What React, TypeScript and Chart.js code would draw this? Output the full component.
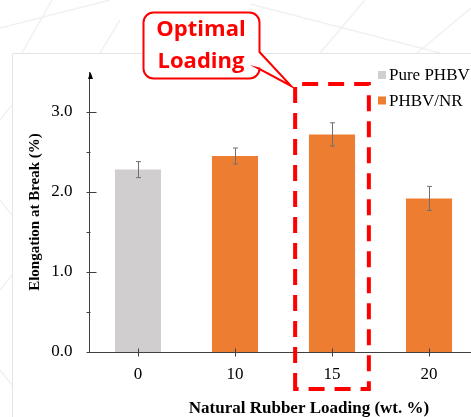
import React, { useEffect, useRef } from "react";
import { Chart, registerables } from "chart.js";

Chart.register(...registerables);

// ---- data ----
const categories = ["0", "10", "15", "20"];
const seriesLabels = ["Pure PHBV", "PHBV/NR"];
const purePHBV: (number | null)[] = [2.28, null, null, null];
const phbvNR: (number | null)[] = [null, 2.45, 2.72, 1.92];
const purePHBVErr: (number | null)[] = [0.1, null, null, null];
const phbvNRErr: (number | null)[] = [null, 0.1, 0.145, 0.15];
const yMin = 0;
const yMax = 3.5;
const yStep = 0.5;
const xTitle = "Natural Rubber Loading (wt. %)";
const yTitle = "Elongation at Break (%)";
const calloutLines = ["Optimal", "Loading"];
const highlightIndex = 2;

const GRAY = "#D0CECE";
const ORANGE = "#ED7D31";
const AXIS = "#404040";
const RED = "#FF0000";
const SERIF = "'Liberation Serif', 'Times New Roman', serif";

const CW = 490;
const CH = 417;

const decorPlugin = {
  id: "decor",
  beforeDraw(chart: any) {
    const ctx = chart.ctx;
    ctx.save();
    ctx.fillStyle = "#ffffff";
    ctx.fillRect(0, 0, chart.width, chart.height);
    // faint background pattern
    ctx.strokeStyle = "#f1f1f1";
    ctx.lineWidth = 1.5;
    const lines = [
      [52, 0, 22, 53],
      [0, 28, 110, 0],
      [250, 4, 440, 53],
      [320, 53, 365, 0],
      [417, 53, 471, 8],
      [100, 53, 120, 20],
      [0, 120, 12, 105],
      [0, 200, 12, 215],
      [0, 290, 12, 275],
      [0, 370, 12, 385],
    ];
    for (const [a, b, c, d] of lines) {
      ctx.beginPath();
      ctx.moveTo(a, b);
      ctx.lineTo(c, d);
      ctx.stroke();
    }
    // panel border
    ctx.strokeStyle = "#e4e4e4";
    ctx.lineWidth = 1;
    ctx.beginPath();
    ctx.moveTo(12.5, chart.height);
    ctx.lineTo(12.5, 53.5);
    ctx.lineTo(chart.width, 53.5);
    ctx.stroke();
    ctx.restore();
  },
  afterDatasetsDraw(chart: any) {
    const ctx = chart.ctx;
    const xs = chart.scales.x;
    const ys = chart.scales.y;
    const area = chart.chartArea;
    ctx.save();

    // error bars
    const errs = [purePHBVErr, phbvNRErr];
    ctx.strokeStyle = "#707070";
    ctx.lineWidth = 1;
    chart.data.datasets.forEach((ds: any, di: number) => {
      const meta = chart.getDatasetMeta(di);
      meta.data.forEach((bar: any, i: number) => {
        const v = ds.data[i];
        const e = errs[di][i];
        if (v == null || e == null) return;
        const x = Math.round(bar.x) + 0.5;
        const yt = ys.getPixelForValue(v + e);
        const yb = ys.getPixelForValue(v - e);
        ctx.beginPath();
        ctx.moveTo(x, yt);
        ctx.lineTo(x, yb);
        ctx.moveTo(x - 2.5, yt);
        ctx.lineTo(x + 2.5, yt);
        ctx.moveTo(x - 2.5, yb);
        ctx.lineTo(x + 2.5, yb);
        ctx.stroke();
      });
    });

    // axis tick marks
    const ax = Math.round(area.left) + 0.5;
    ctx.strokeStyle = AXIS;
    ctx.lineWidth = 1;
    ys.ticks.forEach((t: any) => {
      const py = Math.round(ys.getPixelForValue(t.value)) + 0.5;
      const major = Math.abs(t.value - Math.round(t.value)) < 1e-6;
      if (t.value > 3.01) return;
      ctx.beginPath();
      ctx.moveTo(ax - 4, py);
      ctx.lineTo(major ? ax + 6 : ax, py);
      ctx.stroke();
    });
    const by = Math.round(area.bottom) + 0.5;
    categories.forEach((_, i) => {
      const px = Math.round(xs.getPixelForValue(i)) + 0.5;
      ctx.beginPath();
      ctx.moveTo(px, by - 4);
      ctx.lineTo(px, by + 4);
      ctx.stroke();
    });
    // arrow on y axis
    ctx.fillStyle = "#000";
    ctx.beginPath();
    ctx.moveTo(ax, area.top);
    ctx.lineTo(ax - 2.5, area.top + 7);
    ctx.lineTo(ax + 2.5, area.top + 7);
    ctx.closePath();
    ctx.fill();

    // legend
    ctx.font = `17px ${SERIF}`;
    ctx.textBaseline = "middle";
    ctx.textAlign = "left";
    chart.data.datasets.forEach((ds: any, di: number) => {
      const ly = 75 + di * 25.5;
      ctx.fillStyle = ds.backgroundColor;
      ctx.fillRect(378, ly - 4, 8, 8);
      ctx.fillStyle = "#000";
      ctx.fillText(ds.label, 389, ly + 1);
    });

    // x title
    ctx.font = `bold 17px ${SERIF}`;
    ctx.textAlign = "center";
    ctx.fillStyle = "#000";
    ctx.fillText(xTitle, 309, 409);

    // dashed highlight box
    const cx = xs.getPixelForValue(highlightIndex);
    const half = (xs.getPixelForValue(1) - xs.getPixelForValue(0)) * 0.38;
    const bx0 = cx - half;
    const bx1 = cx + half;
    const bTop = ys.getPixelForValue(3.35);
    const bBot = area.bottom + 37;
    ctx.strokeStyle = RED;
    ctx.lineWidth = 4;
    ctx.setLineDash([16, 10]);
    ctx.beginPath();
    ctx.moveTo(bx0, bBot);
    ctx.lineTo(bx0, bTop);
    ctx.lineTo(bx1, bTop);
    ctx.lineTo(bx1, bBot);
    ctx.closePath();
    ctx.stroke();
    ctx.setLineDash([]);

    // callout
    const L = 143.5, T = 12.5, R = 259.5, B = 78.5, rad = 10;
    ctx.lineWidth = 2;
    ctx.strokeStyle = RED;
    ctx.fillStyle = "#fff";
    ctx.beginPath();
    ctx.moveTo(L + rad, T);
    ctx.lineTo(R - rad, T);
    ctx.arcTo(R, T, R, T + rad, rad);
    ctx.lineTo(R, 52);
    ctx.lineTo(bx0 - 4, bTop + 2);
    ctx.lineTo(R - 2, 68);
    ctx.lineTo(R, B - rad);
    ctx.arcTo(R, B, R - rad, B, rad);
    ctx.lineTo(L + rad, B);
    ctx.arcTo(L, B, L, B - rad, rad);
    ctx.lineTo(L, T + rad);
    ctx.arcTo(L, T, L + rad, T, rad);
    ctx.closePath();
    ctx.fill();
    ctx.stroke();
    ctx.fillStyle = RED;
    ctx.font = "bold 22px 'Open Sans', sans-serif";
    ctx.textAlign = "center";
    ctx.textBaseline = "middle";
    ctx.fillText(calloutLines[0], 201, 30);
    ctx.fillText(calloutLines[1], 201, 62);

    ctx.restore();
  },
};

export default function App() {
  const ref = useRef<HTMLCanvasElement | null>(null);
  useEffect(() => {
    if (!ref.current) return;
    const chart = new Chart(ref.current, {
      type: "bar",
      data: {
        labels: categories,
        datasets: [
          { label: seriesLabels[0], data: purePHBV, backgroundColor: GRAY, borderWidth: 0 },
          { label: seriesLabels[1], data: phbvNR, backgroundColor: ORANGE, borderWidth: 0 },
        ],
      },
      options: {
        responsive: false,
        animation: false,
        maintainAspectRatio: false,
        layout: { padding: { left: 0, right: CW - 477.5, top: 72, bottom: 0 } },
        datasets: { bar: { skipNull: true, barPercentage: 0.475, categoryPercentage: 1 } },
        plugins: { legend: { display: false }, tooltip: { enabled: false } },
        scales: {
          x: {
            type: "category",
            offset: true,
            grid: { display: false },
            border: { display: true, color: AXIS, width: 1 },
            ticks: { color: "#000", font: { family: SERIF, size: 17 }, padding: 4, maxRotation: 0 },
            afterFit: (s: any) => { s.height = CH - 352; },
          },
          y: {
            min: yMin,
            max: yMax,
            grid: { display: false },
            border: { display: true, color: AXIS, width: 1 },
            ticks: {
              stepSize: yStep,
              color: "#000",
              font: { family: SERIF, size: 17 },
              padding: 9,
              callback: (v: any) => (Math.abs(v - Math.round(v)) < 1e-6 && v <= 3 ? Number(v).toFixed(1) : ""),
            },
            title: {
              display: true,
              text: yTitle,
              color: "#000",
              font: { family: SERIF, size: 15, weight: "bold" },
              padding: { top: 26, bottom: 0 },
            },
            afterFit: (s: any) => { s.width = 89.5; },
          },
        },
      },
      plugins: [decorPlugin],
    });
    return () => chart.destroy();
  }, []);
  return (
    <div style={{ position: "fixed", left: 0, top: 0, width: 471, height: 417, overflow: "hidden", background: "#fff" }}>
      <canvas ref={ref} width={CW} height={CH} style={{ display: "block", width: CW, height: CH }} />
    </div>
  );
}
